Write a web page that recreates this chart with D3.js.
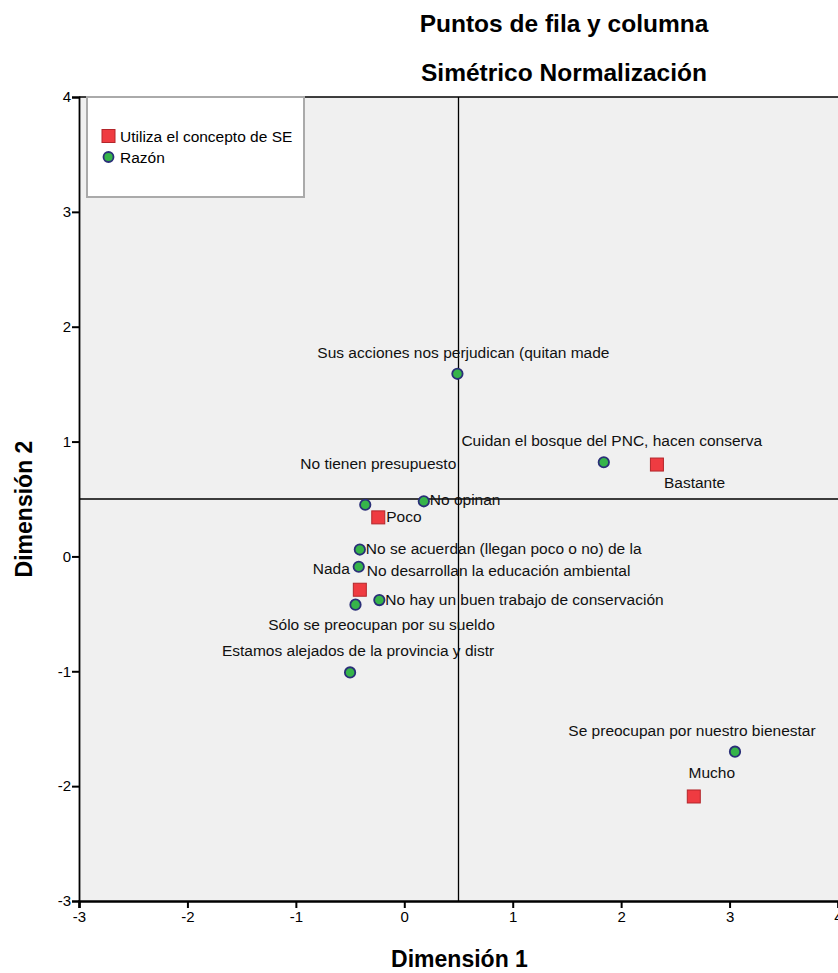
<!DOCTYPE html>
<html><head><meta charset="utf-8">
<script src="https://cdn.jsdelivr.net/npm/d3@7"></script>
<style>body{margin:0;background:#fff}svg{display:block}</style>
</head><body>
<script>
// ---- data ----
const rowLabels = ["Bastante","Poco","Nada","Mucho"];
const rowDim1 = [2.33, -0.24, -0.41, 2.67];
const rowDim2 = [0.80, 0.34, -0.29, -2.09];

const colLabels = ["Sus acciones nos perjudican (quitan made","Cuidan el bosque del PNC, hacen conserva","No tienen presupuesto","No opinan","No se acuerdan (llegan poco o no) de la","No desarrollan la educación ambiental","No hay un buen trabajo de conservación","Sólo se preocupan por su sueldo","Estamos alejados de la provincia y distr","Se preocupan por nuestro bienestar"];
const colDim1 = [0.49, 1.84, -0.36, 0.18, -0.41, -0.42, -0.23, -0.45, -0.50, 3.05];
const colDim2 = [1.59, 0.82, 0.45, 0.48, 0.06, -0.09, -0.38, -0.42, -1.01, -1.70];

const xTicks = [-3,-2,-1,0,1,2,3,4];
const yTicks = [-3,-2,-1,0,1,2,3,4];
const refX = 0.5, refY = 0.5;
const titles = ["Puntos de fila y columna","Simétrico Normalización"];
const legendLabels = ["Utiliza el concepto de SE","Razón"];

// ---- label placement (layout only) ----
const labelPos = {
  "Bastante":[7,23,"start"],
  "Poco":[8,5,"start"],
  "Nada":[-10,-16,"end"],
  "Mucho":[18,-18,"middle"],
  "Sus acciones nos perjudican (quitan made":[6,-16,"middle"],
  "Cuidan el bosque del PNC, hacen conserva":[8,-16,"middle"],
  "No tienen presupuesto":[91,-36,"end"],
  "No opinan":[6,4,"start"],
  "No se acuerdan (llegan poco o no) de la":[6,4,"start"],
  "No desarrollan la educación ambiental":[8,9,"start"],
  "No hay un buen trabajo de conservación":[6,5,"start"],
  "Sólo se preocupan por su sueldo":[26,25,"middle"],
  "Estamos alejados de la provincia y distr":[8,-16,"middle"],
  "Se preocupan por nuestro bienestar":[-43,-16,"middle"]
};

const W=838,H=973;
const svg=d3.select("body").append("svg").attr("width",W).attr("height",H);
const x=d3.scaleLinear().domain([-3,4]).range([79,838]);
const y=d3.scaleLinear().domain([-3,4]).range([901,97]);
const font="'Liberation Sans', Arial, sans-serif";
const narrow="'Liberation Sans Narrow','Arial Narrow','Liberation Sans',Arial,sans-serif";

// plot bg
svg.append("rect").attr("x",x(-3)).attr("y",y(4)).attr("width",x(4)-x(-3)).attr("height",y(-3)-y(4)).attr("fill","#f0f0f0");
svg.append("line").attr("x1",x(-3)).attr("x2",x(4)).attr("y1",y(4)).attr("y2",y(4)).attr("stroke","#000").attr("stroke-width",1.5);

// reference lines
svg.append("line").attr("x1",x(refX)).attr("x2",x(refX)).attr("y1",y(4)).attr("y2",y(-3)).attr("stroke","#000").attr("stroke-width",1.3);
svg.append("line").attr("x1",x(-3)).attr("x2",x(4)).attr("y1",y(refY)).attr("y2",y(refY)).attr("stroke","#000").attr("stroke-width",1.3);

// axes
const xa=svg.append("g").attr("transform",`translate(0,${y(-3)})`).call(d3.axisBottom(x).tickValues(xTicks).tickFormat(d3.format("d")).tickSizeOuter(0).tickSize(7));
const ya=svg.append("g").attr("transform",`translate(${x(-3)},0)`).call(d3.axisLeft(y).tickValues(yTicks).tickFormat(d3.format("d")).tickSizeOuter(0).tickSize(7));
xa.select(".domain").attr("stroke-width",2.5);
ya.select(".domain").attr("stroke-width",1.8);
[xa,ya].forEach(a=>{a.selectAll(".tick line").attr("stroke-width",2);a.selectAll("text").attr("font-family",narrow).attr("font-size",15).attr("fill","#000");});
xa.selectAll("text").attr("dy","0.85em").attr("y",8);
ya.selectAll("text").attr("x",-8);
xa.selectAll(".tick text").text(d=>d<0?"-"+Math.abs(d):d);
ya.selectAll(".tick text").text(d=>d<0?"-"+Math.abs(d):d);

// titles
svg.selectAll(".title").data(titles).enter().append("text")
  .attr("x",564).attr("y",(d,i)=>32+i*49).attr("text-anchor","middle")
  .attr("font-family",font).attr("font-weight","bold").attr("font-size",24.5).text(d=>d);
svg.append("text").attr("x",(x(-3)+x(4))/2+1).attr("y",967).attr("text-anchor","middle")
  .attr("font-family",font).attr("font-weight","bold").attr("font-size",23).text("Dimensión 1");
svg.append("text").attr("transform",`translate(32,${(y(-3)+y(4))/2+10}) rotate(-90)`).attr("text-anchor","middle")
  .attr("font-family",font).attr("font-weight","bold").attr("font-size",23).text("Dimensión 2");

// legend
const lg=svg.append("g");
lg.append("rect").attr("x",87).attr("y",97).attr("width",217).attr("height",100).attr("fill","#fff").attr("stroke","#aaa").attr("stroke-width",2);
lg.append("rect").attr("x",102).attr("y",129.5).attr("width",13).attr("height",13).attr("fill","#ef3b41").attr("stroke","#b3262b").attr("stroke-width",1);
lg.append("circle").attr("cx",108.5).attr("cy",157).attr("r",5).attr("fill","#36b44a").attr("stroke","#2a2f78").attr("stroke-width",1.8);
lg.selectAll(".lt").data(legendLabels).enter().append("text").attr("x",120).attr("y",(d,i)=>141.5+i*21)
  .attr("font-family",font).attr("font-size",15.5).text(d=>d);

// points
const cols=colLabels.map((l,i)=>({l,a:colDim1[i],b:colDim2[i]}));
const rows=rowLabels.map((l,i)=>({l,a:rowDim1[i],b:rowDim2[i]}));
const allLabels=[...cols,...rows];
svg.selectAll(".lbl").data(allLabels).enter().append("text")
  .attr("x",d=>x(d.a)+labelPos[d.l][0]).attr("y",d=>y(d.b)+labelPos[d.l][1])
  .attr("text-anchor",d=>labelPos[d.l][2])
  .attr("font-family",font).attr("font-size",15.5).attr("fill","#111").text(d=>d.l);
svg.selectAll(".cpt").data(cols).enter().append("circle")
  .attr("cx",d=>x(d.a)).attr("cy",d=>y(d.b)).attr("r",5.2)
  .attr("fill","#36b44a").attr("stroke","#2a2f78").attr("stroke-width",1.8);
svg.selectAll(".rpt").data(rows).enter().append("rect")
  .attr("x",d=>x(d.a)-6.5).attr("y",d=>y(d.b)-6.5).attr("width",13).attr("height",13)
  .attr("fill","#ef3b41").attr("stroke","#b3262b").attr("stroke-width",1);
</script>
</body></html>
